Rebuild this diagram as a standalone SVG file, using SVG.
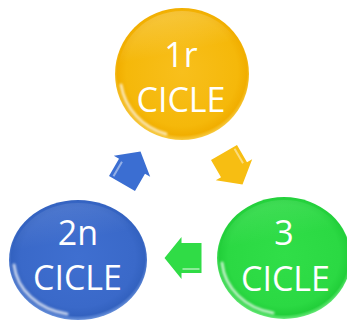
<svg xmlns="http://www.w3.org/2000/svg" width="347" height="322" viewBox="0 0 347 322">
<defs>
<radialGradient id="gY" cx="50%" cy="48%" r="52%">
<stop offset="0" stop-color="#F8BF1C"/>
<stop offset="0.8" stop-color="#F5B80A"/>
<stop offset="0.93" stop-color="#F1AE00"/>
<stop offset="1" stop-color="#F8CC45"/>
</radialGradient>
<radialGradient id="gB" cx="50%" cy="48%" r="52%">
<stop offset="0" stop-color="#3F6FD0"/>
<stop offset="0.8" stop-color="#3A69C9"/>
<stop offset="0.93" stop-color="#3362C0"/>
<stop offset="1" stop-color="#6C94DC"/>
</radialGradient>
<radialGradient id="gG" cx="50%" cy="48%" r="52%">
<stop offset="0" stop-color="#30DE48"/>
<stop offset="0.8" stop-color="#2BD943"/>
<stop offset="0.93" stop-color="#22CF3A"/>
<stop offset="1" stop-color="#6CEA7C"/>
</radialGradient>
<linearGradient id="gTop" x1="0.3" y1="0" x2="0.5" y2="1">
<stop offset="0" stop-color="#FFFFFF" stop-opacity="0.22"/>
<stop offset="0.35" stop-color="#FFFFFF" stop-opacity="0"/>
</linearGradient>
<filter id="blur" x="-20%" y="-20%" width="140%" height="140%">
<feGaussianBlur stdDeviation="1.3"/>
</filter>
<path id="arrow" d="M-18,-15 H2 V-21 L19,0 L2,21 V15 H-18 Z"/>
</defs>
<style>
.lbl{font-family:"Open Sans","Liberation Sans",sans-serif;font-size:34px;fill:#FFFFFF;text-anchor:middle}
.glint{fill:none;stroke:#FFFFFF;stroke-width:3;stroke-linecap:round;opacity:0.7;filter:url(#blur)}
.stripe{stroke:#FFFFFF;stroke-width:2;opacity:0.45}
</style>
<g id="connectors">
<g id="arrow-1-3" transform="translate(233,168) rotate(60)">
<use href="#arrow" fill="#F7BE12"/>
<line class="stripe" x1="-16" y1="-11" x2="1" y2="-11"/>
</g>
<g id="arrow-3-2" transform="translate(183.5,258) rotate(180)">
<use href="#arrow" fill="#30DC46"/>
<line class="stripe" x1="-16" y1="-11" x2="1" y2="-11"/>
</g>
<g id="arrow-2-1" transform="translate(131,168) rotate(-60)">
<use href="#arrow" fill="#3B6ED2"/>
<line class="stripe" x1="-16" y1="-11" x2="1" y2="-11"/>
</g>
</g>
<g id="node-1r">
<ellipse cx="182" cy="74" rx="67" ry="66" fill="url(#gY)"/>
<ellipse cx="182" cy="74" rx="64" ry="63" fill="url(#gTop)"/>
<path class="glint" d="M166,134 A62,61 0 0 1 121,85"/>
<text class="lbl" x="181" y="67">1r</text>
<text class="lbl" x="181" y="112">CICLE</text>
</g>
<g id="node-2n">
<ellipse cx="78" cy="260" rx="69" ry="60" fill="url(#gB)"/>
<ellipse cx="78" cy="260" rx="66" ry="57" fill="url(#gTop)" opacity="0.5"/>
<path class="glint" d="M67,314 A64,55 0 0 1 14,265"/>
<text class="lbl" x="78" y="245">2n</text>
<text class="lbl" x="77.5" y="290">CICLE</text>
</g>
<g id="node-3">
<ellipse cx="284" cy="258" rx="67" ry="61" fill="url(#gG)"/>
<ellipse cx="284" cy="258" rx="64" ry="58" fill="url(#gTop)" opacity="0.5"/>
<path class="glint" d="M273,313 A62,56 0 0 1 222,263"/>
<text class="lbl" x="284" y="245">3</text>
<text class="lbl" x="285.5" y="291">CICLE</text>
</g>
</svg>
